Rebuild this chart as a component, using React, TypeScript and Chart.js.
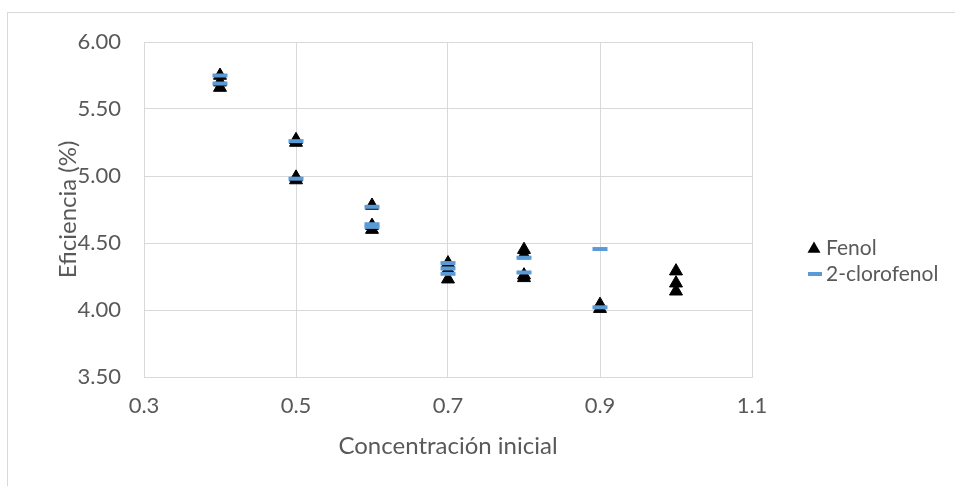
import React, { useEffect, useRef } from "react";
import { Chart, registerables } from "chart.js";

Chart.register(...registerables);

const fenolX = [0.4, 0.4, 0.4, 0.5, 0.5, 0.5, 0.5, 0.6, 0.6, 0.6, 0.7, 0.7, 0.7, 0.8, 0.8, 0.8, 0.8, 0.9, 0.9, 1.0, 1.0, 1.0];
const fenolY = [5.75, 5.70, 5.66, 5.27, 5.25, 4.99, 4.97, 4.78, 4.63, 4.60, 4.35, 4.30, 4.23, 4.45, 4.41, 4.26, 4.24, 4.04, 4.01, 4.29, 4.20, 4.14];
const cloroX = [0.4, 0.4, 0.5, 0.5, 0.6, 0.6, 0.6, 0.7, 0.7, 0.7, 0.8, 0.8, 0.9, 0.9];
const cloroY = [5.75, 5.69, 5.26, 4.98, 4.77, 4.64, 4.62, 4.35, 4.31, 4.27, 4.39, 4.28, 4.455, 4.02];
const xTicks = [0.3, 0.5, 0.7, 0.9, 1.1];
const yTicks = [3.5, 4, 4.5, 5, 5.5, 6];
const seriesNames = ["Fenol", "2-clorofenol"];
const xTitle = "Concentración inicial";
const yTitle = "Eficiencia (%)";

const FONT = "Lato, 'Open Sans', sans-serif";
const TEXT = "#595959";
const GRID = "#d9d9d9";
const BLUE = "#5b9bd5";

export default function App() {
  const ref = useRef<HTMLCanvasElement | null>(null);
  useEffect(() => {
    if (!ref.current) return;
    const legendPlugin = {
      id: "customLegend",
      afterDraw(chart: any) {
        const ctx = chart.ctx;
        ctx.save();
        const y1 = 248, y2 = 274;
        const tx = 814, r = 7.5;
        const ty = y1 + 1;
        ctx.fillStyle = "#000";
        ctx.beginPath();
        ctx.moveTo(tx, ty - r);
        ctx.lineTo(tx + r * 0.866, ty + r * 0.5);
        ctx.lineTo(tx - r * 0.866, ty + r * 0.5);
        ctx.closePath();
        ctx.fill();
        ctx.strokeStyle = BLUE;
        ctx.lineWidth = 4;
        ctx.beginPath();
        ctx.moveTo(808, y2);
        ctx.lineTo(822, y2);
        ctx.stroke();
        ctx.fillStyle = TEXT;
        ctx.font = `21px ${FONT}`;
        ctx.textBaseline = "middle";
        ctx.textAlign = "left";
        ctx.fillText(seriesNames[0], 826, y1);
        ctx.fillText(seriesNames[1], 826, y2);
        ctx.restore();
      },
    };
    const chart = new Chart(ref.current, {
      type: "scatter",
      data: {
        datasets: [
          {
            label: seriesNames[1],
            data: cloroX.map((x, i) => ({ x, y: cloroY[i] })),
            pointStyle: "line",
            pointRadius: 7.5,
            pointBorderWidth: 4,
            borderColor: BLUE,
            backgroundColor: BLUE,
            order: 0,
          },
          {
            label: seriesNames[0],
            data: fenolX.map((x, i) => ({ x, y: fenolY[i] })),
            pointStyle: "triangle",
            pointRadius: 7.5,
            pointBorderWidth: 1,
            borderColor: "#000",
            backgroundColor: "#000",
            order: 1,
          },
        ],
      },
      options: {
        animation: false,
        responsive: false,
        maintainAspectRatio: false,
        layout: { padding: { top: 42, right: 203, left: 0, bottom: 0 } },
        plugins: { legend: { display: false }, tooltip: { enabled: false } },
        scales: {
          x: {
            type: "linear",
            min: 0.3,
            max: 1.1,
            afterBuildTicks: (s: any) => {
              s.ticks = xTicks.map((v) => ({ value: v }));
            },
            afterFit: (s: any) => {
              s.height = 109;
            },
            grid: { color: GRID, drawTicks: false, lineWidth: 1 },
            border: { color: GRID },
            ticks: {
              color: TEXT,
              font: { family: FONT, size: 22 },
              padding: 16,
              callback: (v: any) => Number(v).toFixed(1),
            },
            title: {
              display: true,
              text: xTitle,
              color: TEXT,
              font: { family: FONT, size: 24 },
              padding: { top: 0, bottom: 25 },
            },
          },
          y: {
            min: 3.5,
            max: 6,
            afterBuildTicks: (s: any) => {
              s.ticks = yTicks.map((v) => ({ value: v }));
            },
            afterFit: (s: any) => {
              s.width = 144;
            },
            grid: { color: GRID, drawTicks: false, lineWidth: 1 },
            border: { color: GRID },
            ticks: {
              color: TEXT,
              font: { family: FONT, size: 22 },
              padding: 23,
              callback: (v: any) => Number(v).toFixed(2),
            },
            title: {
              display: true,
              text: yTitle,
              color: TEXT,
              font: { family: FONT, size: 24 },
              padding: { top: 54, bottom: 0 },
            },
          },
        },
      },
      plugins: [legendPlugin],
    } as any);
    return () => chart.destroy();
  }, []);

  return (
    <div style={{ position: "absolute", left: 0, top: 0, width: 955, height: 486, overflow: "hidden", background: "#fff" }}>
      <div
        style={{
          position: "absolute",
          left: 7,
          top: 12,
          width: 1000,
          height: 600,
          borderLeft: `1px solid ${GRID}`,
          borderTop: `1px solid ${GRID}`,
        }}
      />
      <canvas ref={ref} width={955} height={486} style={{ position: "absolute", left: 0, top: 0, width: 955, height: 486 }} />
    </div>
  );
}
